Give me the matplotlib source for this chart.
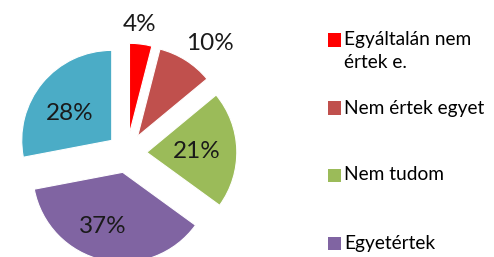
import numpy as np
import matplotlib
matplotlib.use("Agg")
import matplotlib.pyplot as plt
from matplotlib.patches import Rectangle

categories = ["Egyáltalán nem\nértek e.", "Nem értek egyet", "Nem tudom", "Egyetértek", "Teljesen egyetértek"]
values = [4, 10, 21, 37, 28]
colors = ["#FF0000", "#C0504D", "#9BBB59", "#8064A2", "#4BACC6"]
legend_shown = 4

W, H = 494, 257
fig = plt.figure(figsize=(W / 100, H / 100), dpi=100)
ax = fig.add_axes([0, 0, 1, 1])

scale = 90.0  # px per unit radius
cx, cy = 127.0, 153.0  # pie center in px (y from top)

explode = [0.22] * len(values)
wedges, _ = ax.pie(values, colors=colors, startangle=90, counterclock=False,
                   explode=explode, radius=1.0,
                   wedgeprops=dict(edgecolor="white", linewidth=0.8))

# label placement: distance from pie center and angular nudge (degrees, clockwise)
label_dist = [1.43, 1.53, 0.78, 0.86, 0.78]
label_nudge = [-1.4, 4.6, 0.8, 5.4, -5.0]
for w, v, d, n in zip(wedges, values, label_dist, label_nudge):
    th = np.deg2rad(0.5 * (w.theta1 + w.theta2) - n)
    x = d * np.cos(th)
    y = d * np.sin(th)
    ax.text(x, y, f"{v}%", ha="center", va="center", fontsize=17.5,
            family="Lato", color="#1a1a1a")

ax.set_xlim(-cx / scale, (W - cx) / scale)
ax.set_ylim(-(H - cy) / scale, cy / scale)
ax.set_aspect("auto")
ax.axis("off")

# legend
row_y = [40, 108, 175, 243]
for i in range(legend_shown):
    y_px = row_y[i]
    fig.patches.append(Rectangle((328 / W, 1 - (y_px + 6.5) / H), 13 / W, 13 / H,
                                 transform=fig.transFigure, facecolor=colors[i],
                                 edgecolor="none"))
    lines = categories[i].split("\n")
    for j, line in enumerate(lines):
        fig.text(344 / W, 1 - (y_px + j * 23) / H, line, ha="left", va="center",
                 fontsize=13.8, family="Lato", color="black")

fig.savefig("out.png", dpi=100)
